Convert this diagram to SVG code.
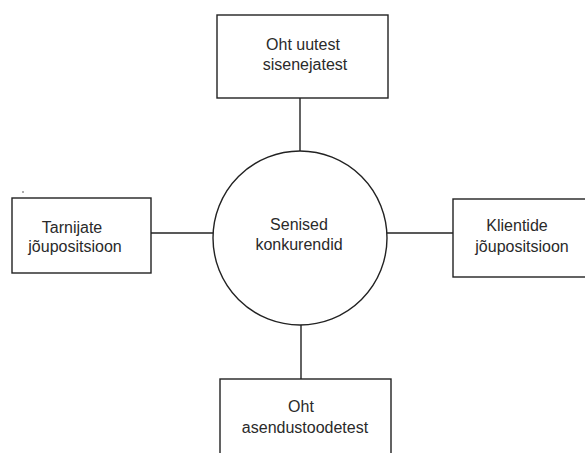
<svg xmlns="http://www.w3.org/2000/svg" width="585" height="453" viewBox="0 0 585 453">
<style>
.box{fill:#fff;stroke:#222;stroke-width:1.4}
.ln{stroke:#222;stroke-width:1.4;fill:none}
text{font-family:"Liberation Sans",Arial,sans-serif;font-size:16px;fill:#2a2a2a;text-anchor:middle}
</style>
<rect width="585" height="453" fill="#fff"/>
<g id="connectors">
<line class="ln" x1="300" y1="98" x2="300" y2="152"/>
<line class="ln" x1="151" y1="233" x2="213" y2="233"/>
<line class="ln" x1="387" y1="233" x2="453" y2="233"/>
<line class="ln" x1="301" y1="324" x2="301" y2="379"/>
</g>
<g id="top">
<rect class="box" x="217" y="15" width="171" height="83"/>
<text x="303" y="50">Oht uutest</text>
<text x="305" y="70">sisenejatest</text>
</g>
<g id="left">
<rect class="box" x="12" y="198" width="139" height="75"/>
<text x="72" y="233">Tarnijate</text>
<text x="75" y="252">jõupositsioon</text>
</g>
<g id="right">
<rect class="box" x="453" y="199" width="140" height="78"/>
<text x="517" y="231">Klientide</text>
<text x="522" y="252">jõupositsioon</text>
</g>
<g id="center">
<circle class="box" cx="300" cy="238" r="87"/>
<text x="299" y="230">Senised</text>
<text x="299" y="250">konkurendid</text>
</g>
<g id="bottom">
<rect class="box" x="220" y="379" width="171" height="80"/>
<text x="301" y="412">Oht</text>
<text x="305" y="433">asendustoodetest</text>
</g>
<circle cx="23" cy="192" r="0.8" fill="#444"/>
</svg>
